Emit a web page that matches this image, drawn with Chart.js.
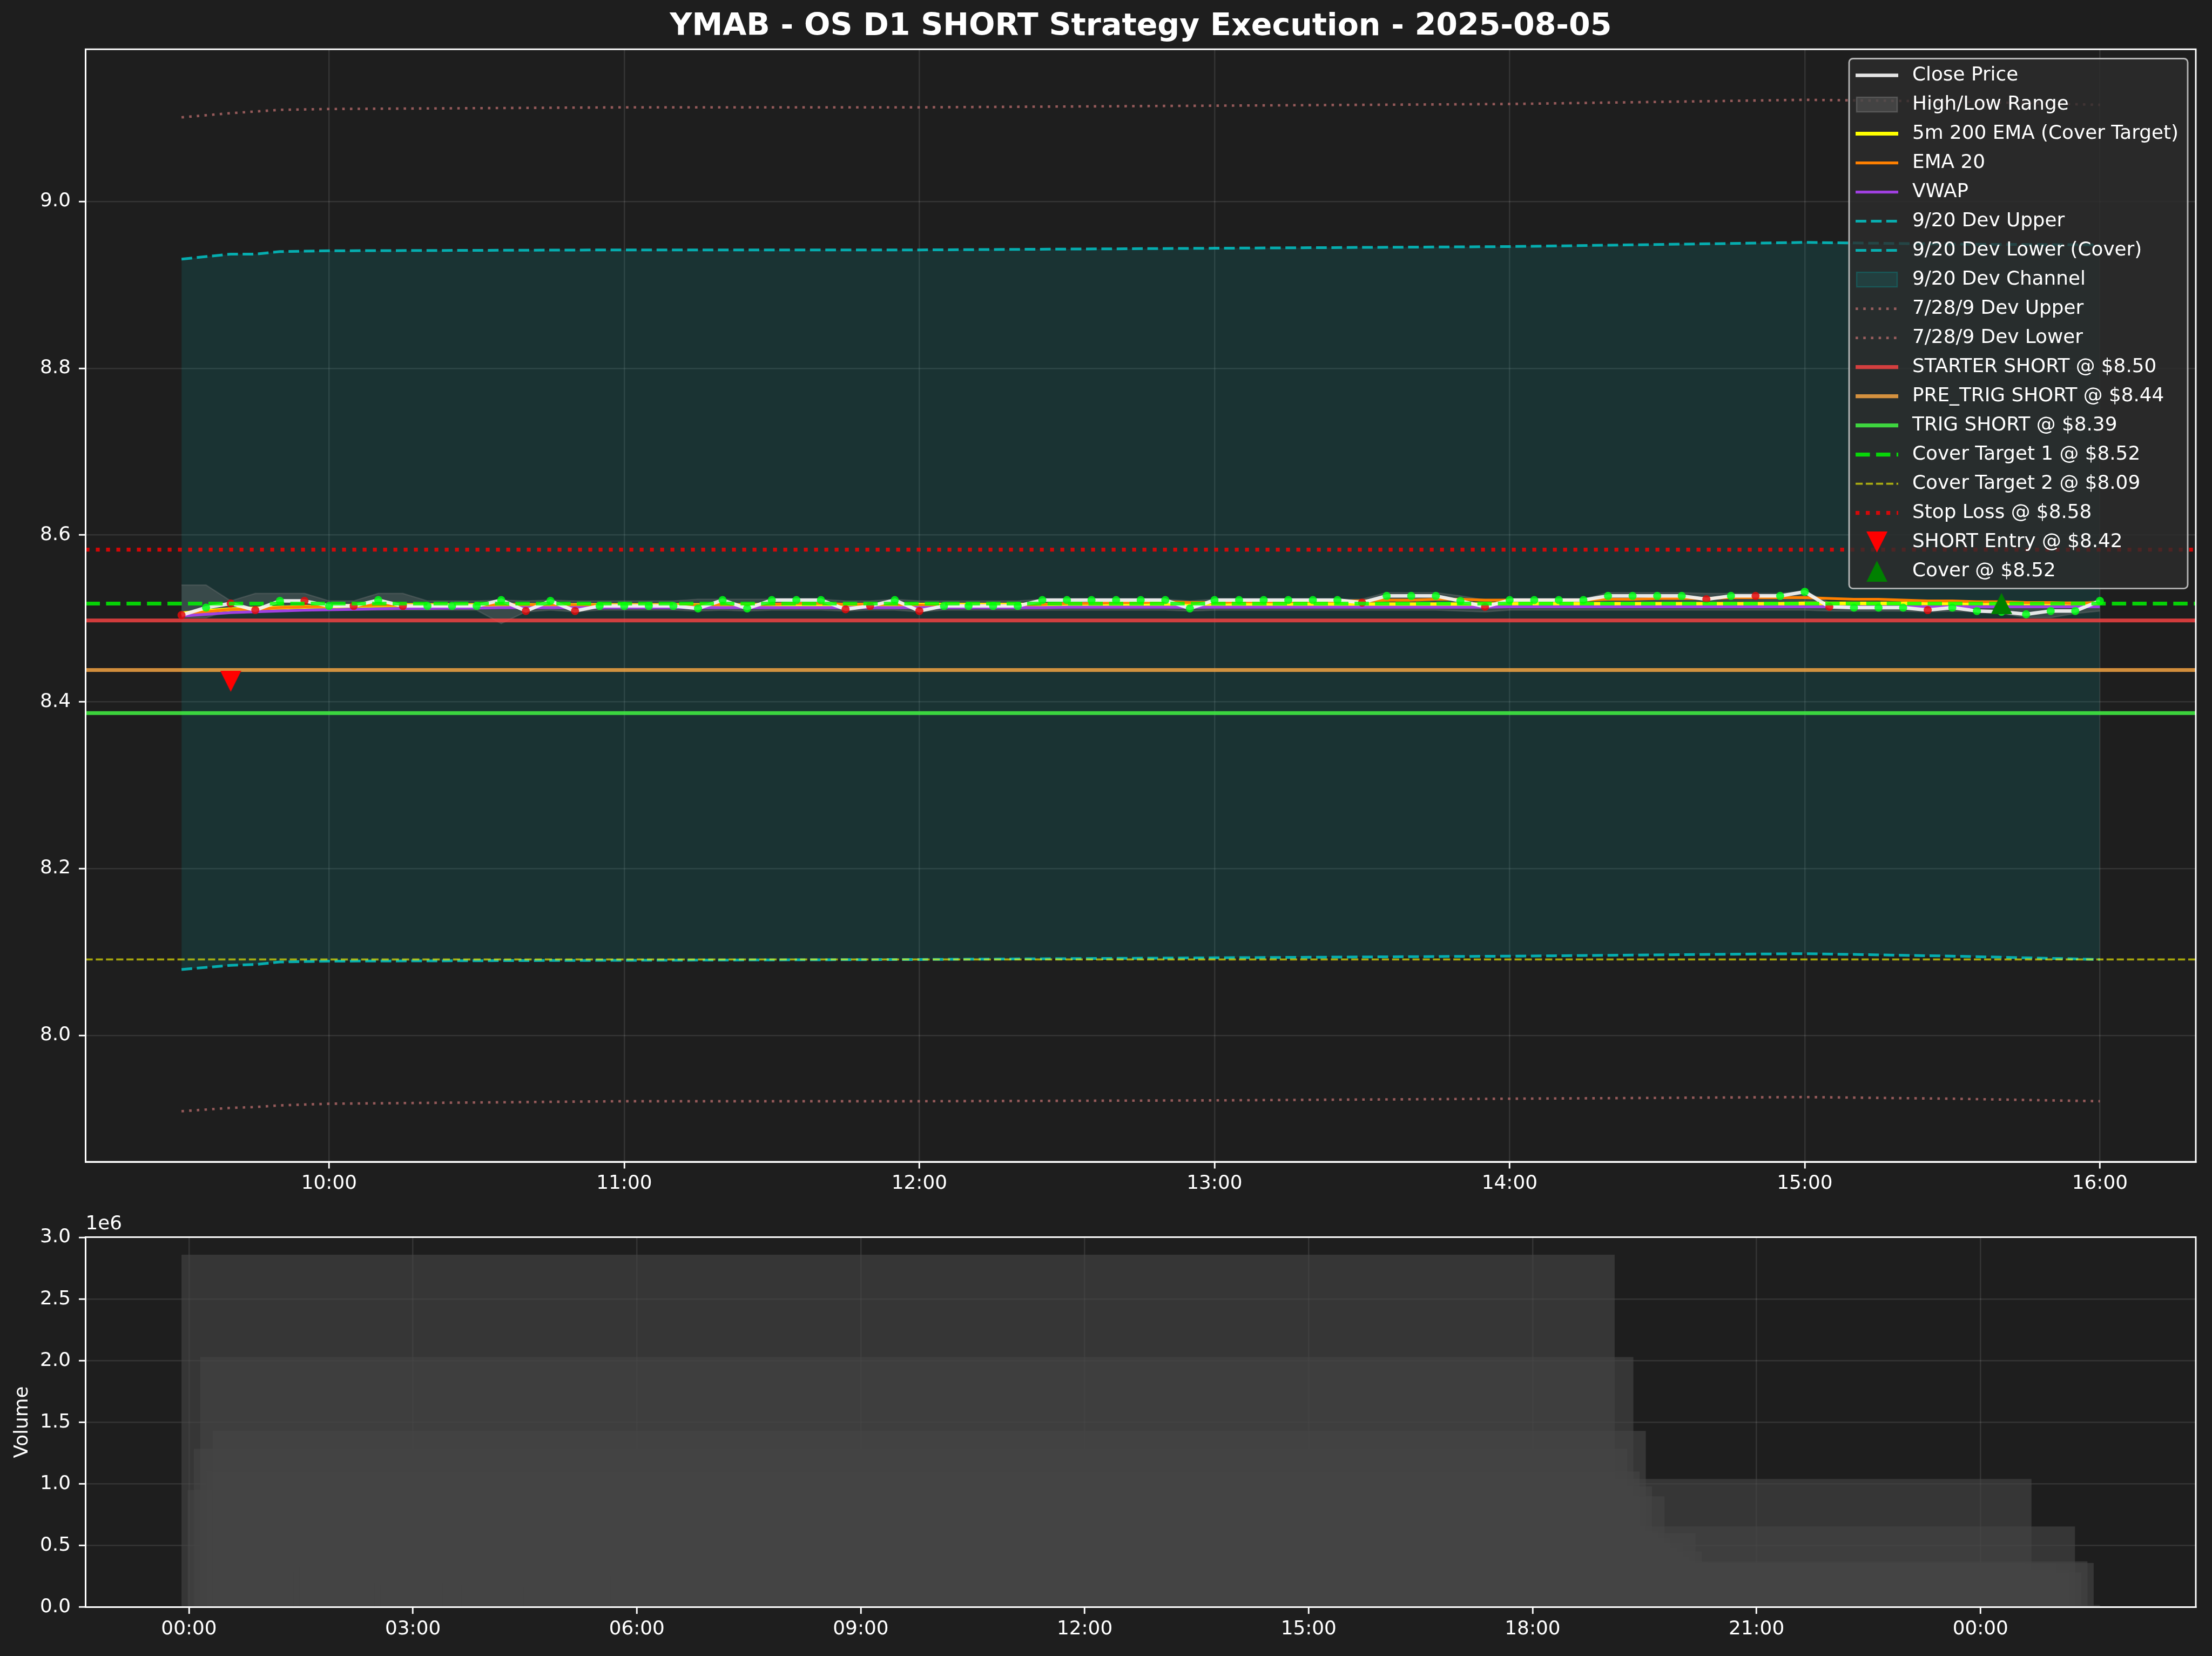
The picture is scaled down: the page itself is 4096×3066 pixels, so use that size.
<!DOCTYPE html>
<html>
<head>
<meta charset="utf-8">
<script src="https://cdn.jsdelivr.net/npm/chart.js@4.4.1/dist/chart.umd.min.js"></script>
<style>
  html, body { margin: 0; padding: 0; background: #1e1e1e; }
  #wrap { position: relative; width: 4096px; height: 3066px; background: #1e1e1e; overflow: hidden; }
  #main { position: absolute; left: 0; top: 0; }
  #vol { position: absolute; left: 0; top: 2240px; }
</style>
</head>
<body>
<div id="wrap">
  <canvas id="main" width="4096" height="2240"></canvas>
  <canvas id="vol" width="4096" height="826"></canvas>
</div>
<script>
// ---------------- DATA ----------------
const chartTitle = "YMAB - OS D1 SHORT Strategy Execution - 2025-08-05";

const times = [
  "09:30","09:35","09:40","09:45","09:50","09:55",
  "10:00","10:05","10:10","10:15","10:20","10:25","10:30","10:35","10:40","10:45","10:50","10:55",
  "11:00","11:05","11:10","11:15","11:20","11:25","11:30","11:35","11:40","11:45","11:50","11:55",
  "12:00","12:05","12:10","12:15","12:20","12:25","12:30","12:35","12:40","12:45","12:50","12:55",
  "13:00","13:05","13:10","13:15","13:20","13:25","13:30","13:35","13:40","13:45","13:50","13:55",
  "14:00","14:05","14:10","14:15","14:20","14:25","14:30","14:35","14:40","14:45","14:50","14:55",
  "15:00","15:05","15:10","15:15","15:20","15:25","15:30","15:35","15:40","15:45","15:50","15:55",
  "16:00"
];

const closes = [
  8.504, 8.513, 8.518, 8.510, 8.521, 8.521,
  8.515, 8.515, 8.522, 8.515, 8.515, 8.515, 8.515, 8.522, 8.509, 8.521, 8.509, 8.515,
  8.515, 8.515, 8.515, 8.512, 8.522, 8.512, 8.522, 8.522, 8.522, 8.511, 8.515, 8.522,
  8.509, 8.515, 8.515, 8.515, 8.515, 8.522, 8.522, 8.522, 8.522, 8.522, 8.522, 8.512,
  8.522, 8.522, 8.522, 8.522, 8.522, 8.522, 8.519, 8.527, 8.527, 8.527, 8.521, 8.514,
  8.522, 8.522, 8.522, 8.522, 8.527, 8.527, 8.527, 8.527, 8.523, 8.527, 8.527, 8.527,
  8.532, 8.514, 8.513, 8.513, 8.513, 8.510, 8.513, 8.509, 8.508, 8.505, 8.509, 8.509,
  8.521
];

// 1 = close above open (green dot), 0 = close below open (red dot)
const candleUp = [
  0,1,0,0,1,0,
  1,0,1,0,1,1,1,1,0,1,0,1,
  1,1,1,1,1,1,1,1,1,0,0,1,
  0,1,1,1,1,1,1,1,1,1,1,1,
  1,1,1,1,1,1,0,1,1,1,1,0,
  1,1,1,1,1,1,1,1,0,1,0,1,
  1,0,1,1,1,0,1,1,1,1,1,1,
  1
];

const highs = [
  8.540, 8.540, 8.521, 8.530, 8.530, 8.530,
  8.521, 8.521, 8.530, 8.530, 8.521, 8.521, 8.521, 8.522, 8.521, 8.522, 8.521, 8.521,
  8.521, 8.521, 8.521, 8.523, 8.523, 8.523, 8.523, 8.523, 8.523, 8.521, 8.521, 8.523,
  8.521, 8.521, 8.521, 8.521, 8.521, 8.523, 8.523, 8.523, 8.523, 8.523, 8.523, 8.521,
  8.523, 8.523, 8.523, 8.523, 8.523, 8.523, 8.523, 8.531, 8.531, 8.531, 8.527, 8.522,
  8.523, 8.523, 8.523, 8.523, 8.531, 8.531, 8.531, 8.531, 8.530, 8.530, 8.530, 8.530,
  8.533, 8.519, 8.519, 8.519, 8.519, 8.519, 8.519, 8.519, 8.519, 8.515, 8.515, 8.518,
  8.522
];

const lows = [
  8.501, 8.501, 8.510, 8.509, 8.510, 8.510,
  8.510, 8.510, 8.510, 8.510, 8.510, 8.510, 8.510, 8.494, 8.508, 8.510, 8.508, 8.510,
  8.510, 8.510, 8.510, 8.509, 8.510, 8.509, 8.510, 8.510, 8.510, 8.509, 8.510, 8.510,
  8.508, 8.510, 8.510, 8.510, 8.510, 8.510, 8.510, 8.510, 8.510, 8.510, 8.510, 8.509,
  8.510, 8.510, 8.510, 8.510, 8.510, 8.510, 8.510, 8.510, 8.510, 8.510, 8.509, 8.508,
  8.510, 8.510, 8.510, 8.510, 8.510, 8.510, 8.510, 8.510, 8.510, 8.510, 8.510, 8.510,
  8.510, 8.509, 8.509, 8.509, 8.509, 8.508, 8.509, 8.508, 8.506, 8.501, 8.501, 8.506,
  8.509
];

const ema200 = [
  8.506, 8.509, 8.511, 8.512, 8.513, 8.514,
  8.5145, 8.515, 8.5155, 8.516, 8.516, 8.516, 8.516, 8.516, 8.516, 8.516, 8.516, 8.516,
  8.516, 8.516, 8.516, 8.516, 8.516, 8.516, 8.5165, 8.5165, 8.5165, 8.5165, 8.5165, 8.5165,
  8.5165, 8.5165, 8.5165, 8.5165, 8.5165, 8.5165, 8.5165, 8.5165, 8.5165, 8.5165, 8.5165, 8.5165,
  8.517, 8.517, 8.517, 8.517, 8.517, 8.517, 8.517, 8.517, 8.517, 8.517, 8.517, 8.517,
  8.5175, 8.5175, 8.5175, 8.5175, 8.5175, 8.5175, 8.5175, 8.5175, 8.5175, 8.5175, 8.5175, 8.5175,
  8.518, 8.518, 8.518, 8.518, 8.518, 8.518, 8.518, 8.518, 8.518, 8.518, 8.518, 8.518,
  8.518
];

const ema20 = [
  8.505, 8.508, 8.511, 8.511, 8.513, 8.514,
  8.5145, 8.515, 8.516, 8.516, 8.516, 8.516, 8.516, 8.517, 8.516, 8.517, 8.516, 8.516,
  8.516, 8.516, 8.516, 8.516, 8.517, 8.516, 8.517, 8.518, 8.518, 8.517, 8.517, 8.517,
  8.516, 8.516, 8.516, 8.516, 8.516, 8.517, 8.518, 8.518, 8.519, 8.519, 8.520, 8.519,
  8.519, 8.520, 8.520, 8.520, 8.521, 8.521, 8.521, 8.522, 8.522, 8.523, 8.523, 8.522,
  8.522, 8.522, 8.522, 8.522, 8.523, 8.523, 8.524, 8.524, 8.524, 8.525, 8.525, 8.525,
  8.525, 8.524, 8.523, 8.523, 8.522, 8.521, 8.521, 8.520, 8.520, 8.519, 8.519, 8.518,
  8.519
];

const vwap = [
  8.503, 8.505, 8.507, 8.508, 8.509, 8.510,
  8.5105, 8.511, 8.5115, 8.512, 8.512, 8.5125, 8.5125, 8.513, 8.513, 8.513, 8.513, 8.513,
  8.513, 8.513, 8.513, 8.513, 8.513, 8.513, 8.513, 8.513, 8.513, 8.513, 8.513, 8.513,
  8.513, 8.513, 8.513, 8.513, 8.513, 8.513, 8.5135, 8.5135, 8.5135, 8.5135, 8.5135, 8.5135,
  8.5135, 8.5135, 8.5135, 8.5135, 8.5135, 8.5135, 8.5135, 8.5135, 8.5135, 8.5135, 8.5135, 8.5135,
  8.514, 8.514, 8.514, 8.514, 8.514, 8.514, 8.514, 8.514, 8.514, 8.514, 8.514, 8.514,
  8.514, 8.514, 8.514, 8.514, 8.514, 8.514, 8.514, 8.514, 8.514, 8.514, 8.514, 8.514,
  8.514
];

const volumes = [
  2860000, 950000, 1285000, 2030000, 1100000, 1430000,
  980000, 620000, 900000, 560000, 480000, 520000, 410000, 600000, 450000, 360000, 340000, 300000,
  280000, 330000, 270000, 310000, 260000, 240000, 290000, 220000, 250000, 350000, 210000, 230000,
  340000, 200000, 180000, 190000, 170000, 220000, 210000, 160000, 190000, 180000, 150000, 230000,
  200000, 170000, 160000, 180000, 150000, 170000, 220000, 260000, 240000, 210000, 190000, 250000,
  180000, 160000, 170000, 150000, 230000, 210000, 200000, 190000, 260000, 220000, 240000, 280000,
  360000, 1040000, 300000, 250000, 220000, 350000, 200000, 300000, 654000, 280000, 372000, 358000,
  17000
];

// Deviation bands (read at selected times)
const devTimes  = ["09:30","09:40","09:45","09:50","10:00","11:00","12:00","13:00","14:00","15:00","15:30","16:00"];
const devUpper  = [8.931, 8.937, 8.937, 8.940, 8.941, 8.942, 8.942, 8.944, 8.946, 8.951, 8.949, 8.948];
const devLower  = [8.079, 8.084, 8.085, 8.088, 8.089, 8.090, 8.091, 8.093, 8.095, 8.098, 8.095, 8.091];
const dev7Upper = [9.101, 9.106, 9.108, 9.110, 9.111, 9.113, 9.113, 9.115, 9.117, 9.122, 9.120, 9.116];
const dev7Lower = [7.909, 7.913, 7.914, 7.916, 7.918, 7.921, 7.921, 7.922, 7.924, 7.926, 7.924, 7.921];

// Strategy levels
const starterShort = 8.4976;
const preTrigShort = 8.4382;
const trigShort    = 8.3865;
const coverTarget1 = 8.5178;
const coverTarget2 = 8.091;
const stopLoss     = 8.5825;
const entryTime = "09:40", entryPrice = 8.4247;
const coverTime = "15:40", coverPrice = 8.518;

// Tick labels
const hourTicks   = ["10:00","11:00","12:00","13:00","14:00","15:00","16:00"];
const priceTicks  = [8.0, 8.2, 8.4, 8.6, 8.8, 9.0];
const volTickHours  = [0, 3, 6, 9, 12, 15, 18, 21, 24];
const volTickLabels = ["00:00","03:00","06:00","09:00","12:00","15:00","18:00","21:00","00:00"];
const volTicks = [0, 500000, 1000000, 1500000, 2000000, 2500000, 3000000];
const volBarWidthHours = 19.2; // 0.8 day bar width

// ---------------- HELPERS ----------------
const FONT = '"DejaVu Sans", "Liberation Sans", sans-serif';
Chart.defaults.font.family = FONT;
Chart.defaults.font.size = 35.8;
Chart.defaults.color = '#ffffff';
Chart.defaults.elements.point.radius = 0;
Chart.defaults.elements.point.hoverRadius = 0;

const toMin = t => (+t.slice(0, 2)) * 60 + (+t.slice(3));
const pts = (tArr, vArr) => vArr.map((v, i) => ({ x: toMin(tArr[i]), y: v }));

const xsMin = times.map(toMin);
const xSpan = Math.max(...xsMin) - Math.min(...xsMin);
const X_MIN = Math.min(...xsMin) - 0.05 * xSpan;
const X_MAX = Math.max(...xsMin) + 0.05 * xSpan;

const allY = [].concat(closes, highs, lows, ema200, ema20, vwap, devUpper, devLower, dev7Upper, dev7Lower,
  [starterShort, preTrigShort, trigShort, coverTarget1, coverTarget2, stopLoss, entryPrice, coverPrice]);
const yLo = Math.min(...allY), yHi = Math.max(...allY);
const Y_MIN = yLo - 0.05 * (yHi - yLo);
const Y_MAX = yHi + 0.05 * (yHi - yLo);

const hline = v => [{ x: X_MIN, y: v }, { x: X_MAX, y: v }];

function triangle(color, down, size) {
  const c = document.createElement('canvas');
  c.width = size; c.height = size;
  const g = c.getContext('2d');
  g.fillStyle = color;
  g.beginPath();
  if (down) { g.moveTo(0, 0); g.lineTo(size, 0); g.lineTo(size / 2, size); }
  else { g.moveTo(size / 2, 0); g.lineTo(size, size); g.lineTo(0, size); }
  g.closePath();
  g.fill();
  return c;
}
const entryMarker = triangle('#ff0000', true, 39);
const coverMarker = triangle('#008000', false, 39);

const GRID = 'rgba(255,255,255,0.10)';
const lineBase = { pointRadius: 0, tension: 0, borderJoinStyle: 'round', fill: false };

// ---------------- MAIN DATASETS ----------------
const datasets = [
  // 0 channel fill
  Object.assign({}, lineBase, { label: '9/20 Dev Channel', legendKind: 'patch', legendEdge: 'rgba(10,150,150,0.35)',
    data: pts(devTimes, devUpper), borderWidth: 0, borderColor: 'rgba(0,0,0,0)',
    backgroundColor: 'rgba(10,150,150,0.18)', fill: 2, order: 100 }),
  // 1
  Object.assign({}, lineBase, { label: '9/20 Dev Upper', data: pts(devTimes, devUpper),
    borderColor: 'rgba(0,206,209,0.8)', borderWidth: 5, borderDash: [19.8, 8.6], order: 90 }),
  // 2
  Object.assign({}, lineBase, { label: '9/20 Dev Lower (Cover)', data: pts(devTimes, devLower),
    borderColor: 'rgba(0,206,209,0.8)', borderWidth: 5, borderDash: [19.8, 8.6], order: 90 }),
  // 3
  Object.assign({}, lineBase, { label: '7/28/9 Dev Upper', data: pts(devTimes, dev7Upper),
    borderColor: 'rgba(188,110,110,0.75)', borderWidth: 4.6, borderDash: [4.6, 9.6], order: 90 }),
  // 4
  Object.assign({}, lineBase, { label: '7/28/9 Dev Lower', data: pts(devTimes, dev7Lower),
    borderColor: 'rgba(188,110,110,0.75)', borderWidth: 4.6, borderDash: [4.6, 9.6], order: 90 }),
  // 5 high/low fill
  Object.assign({}, lineBase, { label: 'High/Low Range', legendKind: 'patch', legendEdge: 'rgba(110,110,110,0.6)',
    data: pts(times, highs), borderColor: 'rgba(128,128,128,0.3)', borderWidth: 2.5,
    backgroundColor: 'rgba(128,128,128,0.3)', fill: 6, order: 80 }),
  // 6 lows (edge only)
  Object.assign({}, lineBase, { label: '_lows', data: pts(times, lows),
    borderColor: 'rgba(128,128,128,0.3)', borderWidth: 2.5, order: 80 }),
  // 7-11 levels
  Object.assign({}, lineBase, { label: `STARTER SHORT @ $${starterShort.toFixed(2)}`, data: hline(starterShort),
    borderColor: 'rgba(255,68,68,0.8)', borderWidth: 7.1, order: 70 }),
  Object.assign({}, lineBase, { label: `PRE_TRIG SHORT @ $${preTrigShort.toFixed(2)}`, data: hline(preTrigShort),
    borderColor: 'rgba(255,170,68,0.8)', borderWidth: 7.1, order: 70 }),
  Object.assign({}, lineBase, { label: `TRIG SHORT @ $${trigShort.toFixed(2)}`, data: hline(trigShort),
    borderColor: 'rgba(68,255,68,0.8)', borderWidth: 7.1, order: 70 }),
  Object.assign({}, lineBase, { label: `Cover Target 2 @ $${coverTarget2.toFixed(2)}`, data: hline(coverTarget2),
    borderColor: 'rgba(255,255,0,0.6)', borderWidth: 3.6, borderDash: [13.2, 5.7], order: 70 }),
  Object.assign({}, lineBase, { label: `Stop Loss @ $${stopLoss.toFixed(2)}`, data: hline(stopLoss),
    borderColor: 'rgba(255,0,0,0.8)', borderWidth: 7.1, borderDash: [7.2, 11.8], order: 70 }),
  // 12-14 indicators
  Object.assign({}, lineBase, { label: '5m 200 EMA (Cover Target)', data: pts(times, ema200),
    borderColor: '#ffff00', borderWidth: 7, order: 60 }),
  Object.assign({}, lineBase, { label: 'EMA 20', data: pts(times, ema20),
    borderColor: 'rgb(255,128,0)', borderWidth: 5.2, order: 59 }),
  Object.assign({}, lineBase, { label: 'VWAP', data: pts(times, vwap),
    borderColor: 'rgb(160,64,224)', borderWidth: 5.2, order: 58 }),
  // 15 close
  Object.assign({}, lineBase, { label: 'Close Price', data: pts(times, closes),
    borderColor: 'rgba(245,245,245,0.92)', borderWidth: 6.5, order: 50,
    pointRadius: 7.5, pointBorderWidth: 0,
    pointBackgroundColor: candleUp.map(u => u ? 'rgba(0,255,20,0.85)' : 'rgba(225,10,10,0.85)') }),
  // 16 cover target 1
  Object.assign({}, lineBase, { label: `Cover Target 1 @ $${coverTarget1.toFixed(2)}`, data: hline(coverTarget1),
    borderColor: 'rgba(0,255,0,0.8)', borderWidth: 7.1, borderDash: [26.5, 11.4], order: 40 }),
  // 17-18 execution markers
  { label: `SHORT Entry @ $${entryPrice.toFixed(2)}`, legendKind: 'marker', data: [{ x: toMin(entryTime), y: entryPrice }],
    showLine: false, pointStyle: entryMarker, pointRadius: 19, pointBorderWidth: 0, order: 30 },
  { label: `Cover @ $${coverPrice.toFixed(2)}`, legendKind: 'marker', data: [{ x: toMin(coverTime), y: coverPrice }],
    showLine: false, pointStyle: coverMarker, pointRadius: 19, pointBorderWidth: 0, order: 30 }
];

const legendOrder = [
  'Close Price', 'High/Low Range', '5m 200 EMA (Cover Target)', 'EMA 20', 'VWAP',
  '9/20 Dev Upper', '9/20 Dev Lower (Cover)', '9/20 Dev Channel', '7/28/9 Dev Upper', '7/28/9 Dev Lower',
  `STARTER SHORT @ $${starterShort.toFixed(2)}`, `PRE_TRIG SHORT @ $${preTrigShort.toFixed(2)}`,
  `TRIG SHORT @ $${trigShort.toFixed(2)}`, `Cover Target 1 @ $${coverTarget1.toFixed(2)}`,
  `Cover Target 2 @ $${coverTarget2.toFixed(2)}`, `Stop Loss @ $${stopLoss.toFixed(2)}`,
  `SHORT Entry @ $${entryPrice.toFixed(2)}`, `Cover @ $${coverPrice.toFixed(2)}`
];

// ---------------- PLUGINS ----------------
const framePlugin = {
  id: 'frame',
  afterDatasetsDraw(chart) {
    const { ctx, chartArea: a } = chart;
    ctx.save();
    ctx.strokeStyle = '#ffffff';
    ctx.lineWidth = 2.9;
    ctx.strokeRect(a.left, a.top, a.right - a.left, a.bottom - a.top);
    ctx.restore();
  }
};

function roundRectPath(ctx, x, y, w, h, r) {
  ctx.beginPath();
  ctx.moveTo(x + r, y);
  ctx.lineTo(x + w - r, y); ctx.arcTo(x + w, y, x + w, y + r, r);
  ctx.lineTo(x + w, y + h - r); ctx.arcTo(x + w, y + h, x + w - r, y + h, r);
  ctx.lineTo(x + r, y + h); ctx.arcTo(x, y + h, x, y + h - r, r);
  ctx.lineTo(x, y + r); ctx.arcTo(x, y, x + r, y, r);
  ctx.closePath();
}

const legendPlugin = {
  id: 'mplLegend',
  afterDraw(chart) {
    const { ctx, chartArea: a } = chart;
    const fs = 35.8, row = 54, padTop = 31.1, padBottom = 32, handleL = 12, handleW = 79, textOff = 117, padR = 17;
    const items = legendOrder.map(l => chart.data.datasets.find(d => d.label === l)).filter(Boolean);
    ctx.save();
    ctx.font = `${fs}px ${FONT}`;
    const tw = Math.max(...items.map(d => ctx.measureText(d.label).width));
    const w = textOff + tw + padR;
    const h = padTop + row * (items.length - 1) + padBottom;
    const x0 = a.right - 15 - w, y0 = a.top + 17.3;
    roundRectPath(ctx, x0, y0, w, h, 7);
    ctx.fillStyle = 'rgba(44,44,44,0.8)';
    ctx.fill();
    ctx.lineWidth = 2.9;
    ctx.strokeStyle = 'rgba(204,204,204,0.85)';
    ctx.stroke();
    items.forEach((d, i) => {
      const cy = y0 + padTop + i * row;
      const hx = x0 + handleL;
      if (d.legendKind === 'patch') {
        ctx.fillStyle = d.backgroundColor;
        ctx.fillRect(hx + 2, cy - 13.5, handleW - 4, 27);
        ctx.strokeStyle = d.legendEdge;
        ctx.lineWidth = 2.5;
        ctx.strokeRect(hx + 2, cy - 13.5, handleW - 4, 27);
      } else if (d.legendKind === 'marker') {
        const img = d.pointStyle;
        ctx.drawImage(img, hx + handleW / 2 - img.width / 2, cy - img.height / 2);
      } else {
        ctx.strokeStyle = d.borderColor;
        ctx.lineWidth = d.borderWidth;
        ctx.lineCap = 'butt';
        ctx.setLineDash(d.borderDash || []);
        ctx.beginPath();
        ctx.moveTo(hx, cy);
        ctx.lineTo(hx + handleW, cy);
        ctx.stroke();
        ctx.setLineDash([]);
      }
      ctx.fillStyle = '#ffffff';
      ctx.textAlign = 'left';
      ctx.textBaseline = 'middle';
      ctx.fillText(d.label, x0 + textOff, cy);
    });
    ctx.restore();
  }
};

const tickStyle = { color: '#ffffff', font: { size: 35.8, family: FONT } };
const gridStyle = { color: GRID, lineWidth: 2.5, tickColor: '#ffffff', tickWidth: 2.9, tickLength: 12.5, drawTicks: true };
const borderStyle = { display: true, color: '#ffffff', width: 2.9 };

// ---------------- MAIN CHART ----------------
new Chart(document.getElementById('main'), {
  type: 'line',
  data: { datasets },
  options: {
    responsive: false, animation: false, devicePixelRatio: 1,
    layout: { padding: { left: 0, right: 30, top: 0, bottom: 0 } },
    plugins: {
      legend: { display: false },
      tooltip: { enabled: false },
      title: { display: true, text: chartTitle, color: '#ffffff', fullSize: false,
        font: { size: 57, weight: 'bold', family: FONT, lineHeight: 1.2 },
        padding: { top: 15.8, bottom: 7 } }
    },
    scales: {
      x: {
        type: 'linear', min: X_MIN, max: X_MAX,
        afterBuildTicks: s => { s.ticks = hourTicks.map(t => ({ value: toMin(t) })); },
        afterFit: s => { s.height = 89; },
        ticks: Object.assign({}, tickStyle, { padding: 7, maxRotation: 0, autoSkip: false,
          callback: (v, i) => hourTicks[i] }),
        grid: gridStyle, border: borderStyle
      },
      y: {
        type: 'linear', min: Y_MIN, max: Y_MAX,
        afterBuildTicks: s => { s.ticks = priceTicks.map(v => ({ value: v })); },
        afterFit: s => { s.width = 158.5; },
        ticks: Object.assign({}, tickStyle, { padding: 15, callback: v => v.toFixed(1) }),
        grid: gridStyle, border: borderStyle
      }
    }
  },
  plugins: [framePlugin, legendPlugin]
});

// ---------------- VOLUME CHART ----------------
const volHours = times.map(t => toMin(t) / 60);
const vLeft = Math.min(...volHours) - volBarWidthHours / 2;
const vRight = Math.max(...volHours) + volBarWidthHours / 2;
const VX_MIN = vLeft - 0.05 * (vRight - vLeft);
const VX_MAX = vRight + 0.05 * (vRight - vLeft);
const VY_MAX = Math.max(...volumes) * 1.05;

const volChart = new Chart(document.getElementById('vol'), {
  type: 'bar',
  data: {
    datasets: [{
      label: 'Volume',
      data: volumes.map((v, i) => ({ x: volHours[i], y: v })),
      backgroundColor: 'rgba(69,69,69,0.64)',
      borderWidth: 0,
      inflateAmount: 0
    }]
  },
  options: {
    responsive: false, animation: false, devicePixelRatio: 1,
    layout: { padding: { left: 0, right: 30, top: 0, bottom: 0 } },
    plugins: {
      legend: { display: false },
      tooltip: { enabled: false },
      title: { display: true, text: '1e6', align: 'start', fullSize: false, color: '#ffffff',
        font: { size: 35.8, weight: 'normal', family: FONT, lineHeight: 1.0 },
        padding: { top: 9, bottom: 5.7 } }
    },
    scales: {
      x: {
        type: 'linear', min: VX_MIN, max: VX_MAX, offset: false,
        afterBuildTicks: s => { s.ticks = volTickHours.map(v => ({ value: v })); },
        afterFit: s => { s.height = 90.5; },
        ticks: Object.assign({}, tickStyle, { padding: 7, maxRotation: 0, autoSkip: false,
          callback: (v, i) => volTickLabels[i] }),
        grid: Object.assign({}, gridStyle, { offset: false }), border: borderStyle
      },
      y: {
        type: 'linear', min: 0, max: VY_MAX,
        afterBuildTicks: s => { s.ticks = volTicks.map(v => ({ value: v })); },
        afterFit: s => { s.width = 158.5; },
        ticks: Object.assign({}, tickStyle, { padding: 15, callback: v => (v / 1e6).toFixed(1) }),
        title: { display: true, text: 'Volume', color: '#ffffff',
          font: { size: 35.8, family: FONT }, padding: { top: 20, bottom: 20 } },
        grid: gridStyle, border: borderStyle
      }
    }
  },
  plugins: [framePlugin]
});

// bar width = 0.8 day expressed through the x scale
const vx = volChart.scales.x;
volChart.data.datasets[0].barThickness = vx.getPixelForValue(volBarWidthHours) - vx.getPixelForValue(0);
volChart.update();
</script>
</body>
</html>
